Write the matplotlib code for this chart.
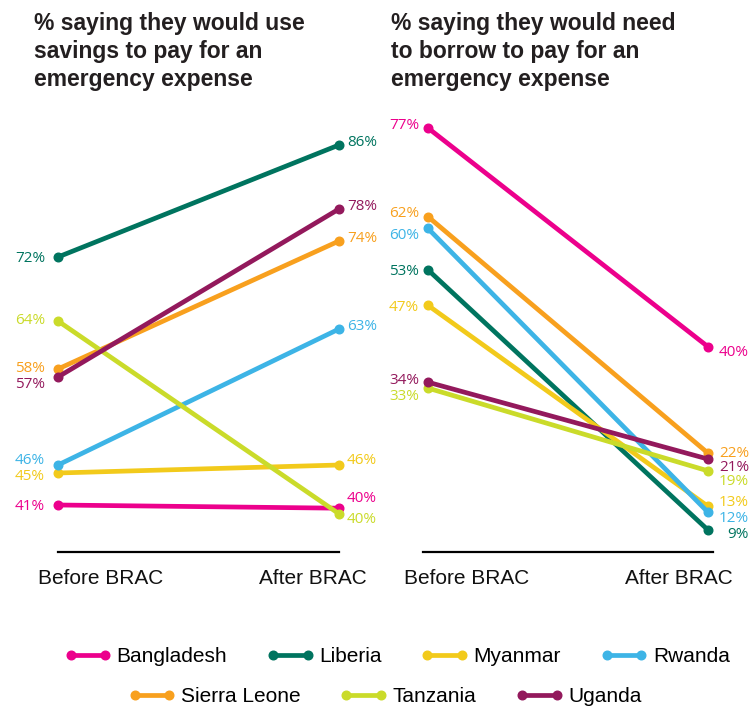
import matplotlib
matplotlib.use("Agg")
import matplotlib.pyplot as plt
from matplotlib.lines import Line2D

# ---- data ----
countries = ["Bangladesh", "Liberia", "Myanmar", "Rwanda", "Sierra Leone", "Tanzania", "Uganda"]
stages = ["Before BRAC", "After BRAC"]
savings_before = [41, 72, 45, 46, 58, 64, 57]
savings_after = [40.6, 86, 46, 63, 74, 39.9, 78]
savings_before_lbl = ["41%", "72%", "45%", "46%", "58%", "64%", "57%"]
savings_after_lbl = ["40%", "86%", "46%", "63%", "74%", "40%", "78%"]
borrow_before = [77, 53, 47, 60, 62, 33, 34]
borrow_after = [40, 9, 13, 12, 22, 19, 21]
title_left = "% saying they would use\nsavings to pay for an\nemergency expense"
title_right = "% saying they would need\nto borrow to pay for an\nemergency expense"

# ---- style ----
colors = ["#EC008C", "#00745F", "#F2CA1B", "#3DB4E6", "#F8A01E", "#CADB2A", "#93195C"]
label_font = "Open Sans"
main_font = "Liberation Sans"
title_color = "#231F20"
LW = 3.4
MS = 6.2
LBL_FS = 11.0

# label vertical nudges (pixels, positive = up)
left_before_dy = [1, 0, -2, 6, 3, 2, -6]
left_after_dy = [12, 4, 6, 5, 5, -4, 5]
right_before_dy = [4, 0, 0, -5, 5, -6, 4]
right_after_dy = [-4, -2, 6, -4, 2, -9, -6]
right_after_dx = [11, 19, 11, 11, 11, 11, 11]

W, H = 753, 709
fig = plt.figure(figsize=(W / 100, H / 100), dpi=100)


def px_axes(x0, x1, ytop, ybot):
    return fig.add_axes([x0 / W, 1 - ybot / H, (x1 - x0) / W, (ybot - ytop) / H])


def style(ax):
    for s in ["top", "right", "left"]:
        ax.spines[s].set_visible(False)
    ax.spines["bottom"].set_linewidth(1.6)
    ax.spines["bottom"].set_color("black")
    ax.set_xticks([])
    ax.set_yticks([])
    ax.patch.set_alpha(0)


def draw(ax, before, after, blbl, albl, bdy, ady, bdx, adx, xlab_before_dx, xlab_after_dx):
    for i, c in enumerate(colors):
        ax.plot([0, 1], [before[i], after[i]], color=c, lw=LW, marker="o", ms=MS,
                solid_capstyle="round", clip_on=False, zorder=3 + i)
        ax.annotate(blbl[i], xy=(0, before[i]), xytext=(bdx, bdy[i]), textcoords="offset pixels",
                    ha="right", va="center_baseline", color=c, fontsize=LBL_FS, family=label_font)
        dx = adx[i] if isinstance(adx, list) else adx
        ax.annotate(albl[i], xy=(1, after[i]), xytext=(dx, ady[i]), textcoords="offset pixels",
                    ha="left", va="center_baseline", color=c, fontsize=LBL_FS, family=label_font)
    y0 = ax.get_ylim()[0]
    ax.annotate(stages[0], xy=(0, y0), xytext=(xlab_before_dx, -27), textcoords="offset pixels",
                ha="left", va="center", fontsize=15, family=main_font, color="#111111",
                annotation_clip=False)
    ax.annotate(stages[1], xy=(1, y0), xytext=(xlab_after_dx, -27), textcoords="offset pixels",
                ha="right", va="center", fontsize=15, family=main_font, color="#111111",
                annotation_clip=False)


# left panel
axL = px_axes(58, 339, 100, 552)
axL.set_xlim(0, 1)
axL.set_ylim(72 - (552 - 257) / 8, 72 + (257 - 100) / 8)
style(axL)
draw(axL, savings_before, savings_after, savings_before_lbl, savings_after_lbl,
     left_before_dy, left_after_dy, -13, 8, -20, 28)

# right panel
axR = px_axes(422.7, 712.7, 100, 552)
sc = 5.912
axR.set_xlim(-5.3 / 280, 1 + 4.7 / 280)
axR.set_ylim(9 - 22 / sc, 77 + 28 / sc)
style(axR)
draw(axR, borrow_before, borrow_after, [f"{v}%" for v in borrow_before],
     [f"{v}%" for v in borrow_after], right_before_dy, right_after_dy, -9, right_after_dx, -24, 25)

# titles
fig.text(34 / W, 1 - 12 / H, title_left, ha="left", va="top", fontsize=16.5, fontweight="bold",
         family=main_font, color=title_color, linespacing=1.28)
fig.text(391 / W, 1 - 12 / H, title_right, ha="left", va="top", fontsize=16.5, fontweight="bold",
         family=main_font, color=title_color, linespacing=1.28)

# legends
handles = [Line2D([], [], color=c, lw=LW, marker="o", ms=MS, solid_capstyle="round") for c in colors]
common = dict(loc="center", frameon=False, handlelength=2.26, handletextpad=0.25,
              columnspacing=1.9, borderpad=0, borderaxespad=0, numpoints=2,
              prop={"family": main_font, "size": 15})
fig.legend(handles[:4], countries[:4], bbox_to_anchor=(397 / W, 1 - 657 / H), ncol=4, **common)
fig.legend(handles[4:], countries[4:], bbox_to_anchor=(385 / W, 1 - 697 / H), ncol=3, **common)

fig.savefig("out.png", dpi=100)
